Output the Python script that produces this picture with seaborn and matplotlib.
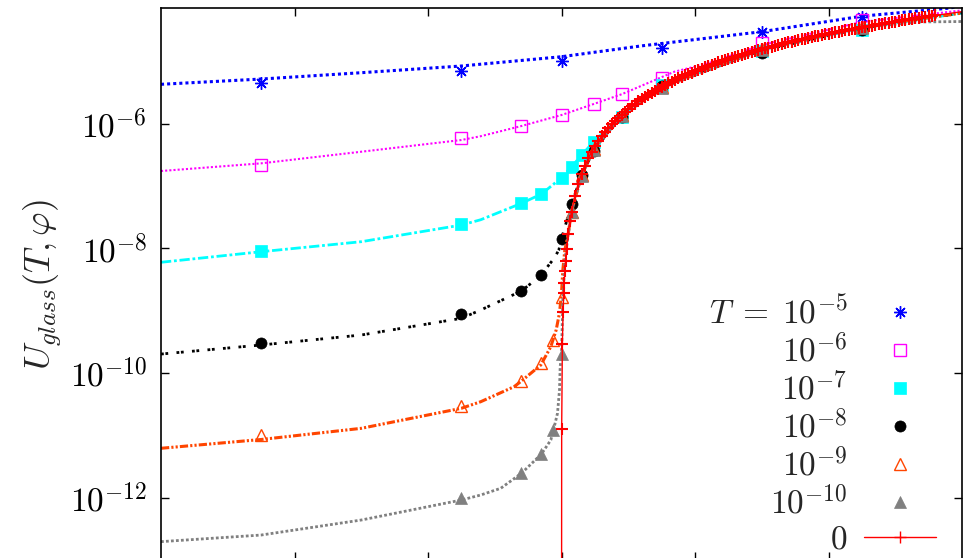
import matplotlib
matplotlib.use("Agg")
import matplotlib.pyplot as plt
import seaborn as sns
from matplotlib.lines import Line2D
from matplotlib.ticker import FixedLocator, NullLocator, FixedFormatter

sns.set_theme(style="white")
plt.rcParams["mathtext.fontset"] = "cm"
plt.rcParams["font.family"] = ["DejaVu Serif"]

PHI_J = 0.66

# ---- simulation points, U_glass(T, phi) ----
phi_5 = [0.615, 0.645, 0.66, 0.675, 0.69, 0.705]
u_5 = [4.51e-6, 6.86e-6, 1.00e-5, 1.64e-5, 2.89e-5, 5.15e-5]

phi_6 = [0.615, 0.645, 0.654, 0.66, 0.6648, 0.669, 0.675, 0.69, 0.705]
u_6 = [2.14e-7, 5.86e-7, 9.02e-7, 1.353e-6, 2.03e-6, 2.94e-6, 5.36e-6, 1.93e-5, 4.56e-5]

phi_7 = [0.615, 0.645, 0.654, 0.657, 0.66, 0.6615, 0.663, 0.6648, 0.669, 0.675, 0.69, 0.705]
u_7 = [9.15e-9, 2.48e-8, 5.26e-8, 7.41e-8, 1.353e-7, 2.03e-7, 3.09e-7, 5.11e-7, 1.27e-6,
       4.14e-6, 1.45e-5, 3.15e-5]

phi_8 = [0.615, 0.645, 0.654, 0.657, 0.66, 0.6615, 0.663, 0.6648, 0.669, 0.675, 0.69, 0.705]
u_8 = [3.00e-10, 8.85e-10, 2.07e-9, 3.73e-9, 1.426e-8, 5.13e-8, 1.511e-7, 3.66e-7, 1.285e-6,
       3.99e-6, 1.35e-5, 3.15e-5]

phi_9 = [0.615, 0.645, 0.654, 0.657, 0.6587, 0.66, 0.6615, 0.663, 0.6648, 0.669, 0.675, 0.69, 0.705]
u_9 = [1.019e-11, 2.97e-11, 7.47e-11, 1.468e-10, 3.39e-10, 1.64e-9, 3.82e-8, 1.496e-7, 3.90e-7,
       1.37e-6, 3.85e-6, 1.56e-5, 3.52e-5]

phi_10 = [0.645, 0.654, 0.657, 0.6587, 0.66, 0.6615, 0.663, 0.6648, 0.669, 0.675, 0.69, 0.705]
u_10 = [9.86e-13, 2.48e-12, 5.05e-12, 1.225e-11, 2.02e-10, 3.82e-8, 1.442e-7, 3.76e-7, 1.318e-6,
        3.71e-6, 1.51e-5, 3.39e-5]

phi_0 = [0.660027, 0.66013, 0.660235, 0.660334, 0.6604, 0.6605, 0.6606, 0.66075, 0.661, 0.66125,
         0.6615, 0.662, 0.6625, 0.663, 0.6635, 0.664, 0.6645, 0.665,
         0.6655, 0.666, 0.6665, 0.667, 0.6675, 0.668, 0.6685, 0.669, 0.6695, 0.670,
         0.6705, 0.671, 0.6715, 0.672, 0.6725, 0.673, 0.6735, 0.674, 0.6745, 0.675,
         0.6755, 0.676, 0.6765, 0.677, 0.6775, 0.678, 0.6785, 0.679, 0.6795, 0.680,
         0.6805, 0.681, 0.6815, 0.682, 0.6825, 0.683, 0.6835, 0.684, 0.6845, 0.685,
         0.6855, 0.686, 0.6865, 0.687, 0.6875, 0.688, 0.6885, 0.689, 0.6895, 0.690,
         0.6905, 0.691, 0.6915, 0.692, 0.6925, 0.693, 0.6935, 0.694, 0.6945, 0.695,
         0.6955, 0.696, 0.6965, 0.697, 0.6975, 0.698, 0.6985, 0.699, 0.6995, 0.700,
         0.7005, 0.701, 0.7015, 0.702, 0.7025, 0.703, 0.7035, 0.704, 0.7045, 0.705,
         0.7055, 0.706, 0.7065, 0.707, 0.7075, 0.708, 0.7085, 0.709, 0.7095, 0.710,
         0.7105, 0.711, 0.7115, 0.712, 0.7125, 0.713, 0.7135, 0.714, 0.7145, 0.715,
         0.7155, 0.716]
u_0 = [1.27e-11, 2.92e-10, 9.53e-10, 1.92e-9, 2.75e-9, 4.30e-9, 6.20e-9, 9.68e-9, 1.72e-8, 2.69e-8,
       3.87e-8, 6.88e-8, 1.08e-7, 1.55e-7, 2.11e-7, 2.75e-7, 3.49e-7, 4.30e-7,
       5.21e-7, 6.20e-7, 7.27e-7, 8.43e-7, 9.68e-7, 1.10e-6, 1.243e-6, 1.39e-6, 1.553e-6, 1.72e-6,
       1.897e-6, 2.08e-6, 2.276e-6, 2.48e-6, 2.689e-6, 2.91e-6, 3.137e-6, 3.37e-6, 3.618e-6, 3.87e-6,
       4.135e-6, 4.41e-6, 4.685e-6, 4.97e-6, 5.271e-6, 5.58e-6, 5.890e-6, 6.21e-6, 6.544e-6, 6.88e-6,
       7.232e-6, 7.59e-6, 7.955e-6, 8.33e-6, 8.713e-6, 9.10e-6, 9.504e-6, 9.91e-6, 1.033e-5, 1.08e-5,
       1.119e-5, 1.16e-5, 1.209e-5, 1.25e-5, 1.301e-5, 1.35e-5, 1.398e-5, 1.45e-5, 1.498e-5, 1.55e-5,
       1.601e-5, 1.65e-5, 1.708e-5, 1.76e-5, 1.818e-5, 1.87e-5, 1.931e-5, 1.99e-5, 2.048e-5, 2.11e-5,
       2.169e-5, 2.23e-5, 2.293e-5, 2.36e-5, 2.420e-5, 2.49e-5, 2.551e-5, 2.62e-5, 2.685e-5, 2.75e-5,
       2.823e-5, 2.89e-5, 2.964e-5, 3.04e-5, 3.109e-5, 3.18e-5, 3.257e-5, 3.33e-5, 3.408e-5, 3.49e-5,
       3.563e-5, 3.64e-5, 3.721e-5, 3.80e-5, 3.883e-5, 3.97e-5, 4.048e-5, 4.13e-5, 4.217e-5, 4.30e-5,
       4.389e-5, 4.48e-5, 4.565e-5, 4.65e-5, 4.743e-5, 4.83e-5, 4.926e-5, 5.02e-5, 5.112e-5, 5.21e-5,
       5.301e-5, 5.40e-5]

# ---- fitted curves ----
fit_phi_5 = [0.60, 0.615, 0.63, 0.645, 0.66, 0.6719, 0.69, 0.705, 0.7183, 0.72]
fit_u_5 = [4.25e-6, 5.16e-6, 6.52e-6, 8.35e-6, 1.176e-5, 1.75e-5, 2.96e-5, 5.25e-5, 7.1e-5, 7.9e-5]

fit_phi_6 = [0.60, 0.615, 0.63, 0.645, 0.6479, 0.654, 0.66, 0.6648, 0.669, 0.6719, 0.6769, 0.682,
             0.69, 0.705, 0.72]
fit_u_6 = [1.733e-7, 2.30e-7, 3.53e-7, 5.44e-7, 6.26e-7, 9.12e-7, 1.368e-6, 2.05e-6, 2.94e-6,
           3.99e-6, 6.76e-6, 9.22e-6, 1.81e-5, 4.24e-5, 6.5e-5]

fit_phi_7 = [0.60, 0.615, 0.63, 0.645, 0.6479, 0.654, 0.657, 0.66, 0.6615, 0.663, 0.6648, 0.669,
             0.675, 0.69, 0.705, 0.72]
fit_u_7 = [5.97e-9, 8.82e-9, 1.276e-8, 2.36e-8, 2.87e-8, 5.26e-8, 7.41e-8, 1.353e-7, 2.03e-7,
           3.09e-7, 5.11e-7, 1.343e-6, 3.99e-6, 1.51e-5, 3.39e-5, 5.90e-5]

fit_phi_8 = [0.60, 0.615, 0.63, 0.645, 0.6479, 0.654, 0.657, 0.6581, 0.6589, 0.6596, 0.66, 0.6615,
             0.663, 0.6648, 0.669, 0.675, 0.69, 0.705, 0.72]
fit_u_8 = [2.02e-10, 2.82e-10, 4.08e-10, 7.55e-10, 1.026e-9, 2.07e-9, 3.73e-9, 5.40e-9, 6.92e-9,
           9.40e-9, 1.426e-8, 5.02e-8, 1.496e-7, 3.66e-7, 1.318e-6, 3.92e-6, 1.48e-5, 3.39e-5, 5.90e-5]

fit_phi_9 = [0.60, 0.615, 0.63, 0.645, 0.6479, 0.6529, 0.654, 0.6569, 0.6584, 0.6592, 0.6597, 0.66,
             0.6602, 0.6605, 0.661, 0.6615, 0.663, 0.6648, 0.669, 0.675, 0.69, 0.705, 0.72]
fit_u_9 = [6.24e-12, 8.63e-12, 1.303e-11, 2.73e-11, 3.48e-11, 6.06e-11, 7.47e-11, 1.349e-10,
           2.65e-10, 4.91e-10, 9.19e-10, 1.92e-9, 4.49e-9, 9.40e-9, 1.694e-8, 3.82e-8, 1.496e-7,
           3.90e-7, 1.37e-6, 3.85e-6, 1.56e-5, 3.52e-5, 5.90e-5]

fit_phi_10 = [0.60, 0.615, 0.63, 0.645, 0.6479, 0.6509, 0.654, 0.657, 0.6584, 0.6588, 0.6594, 0.6597,
              0.6598, 0.66, 0.6602, 0.6605, 0.661, 0.6615, 0.663, 0.6648, 0.669, 0.675, 0.69, 0.705,
              0.7135, 0.72]
fit_u_10 = [1.99e-13, 2.54e-13, 4.42e-13, 9.25e-13, 1.113e-12, 1.426e-12, 2.48e-12, 5.05e-12,
            8.47e-12, 1.225e-11, 2.27e-11, 5.36e-11, 1.267e-10, 2.02e-10, 1.484e-9, 6.49e-9,
            1.633e-8, 3.82e-8, 1.442e-7, 3.76e-7, 1.318e-6, 3.71e-6, 1.51e-5, 3.46e-5, 4.24e-5, 4.31e-5]

# T = 0 curve vanishes at the jamming point and ends at the right border
fit_phi_0 = [PHI_J] + phi_0 + [0.72]
fit_u_0 = [1e-16] + u_0 + [6.2e-5]

y_ticks = [1e-12, 1e-10, 1e-8, 1e-6]
y_tick_labels = [r"$10^{-12}$", r"$10^{-10}$", r"$10^{-8}$", r"$10^{-6}$"]
x_ticks = [0.62, 0.64, 0.66, 0.68, 0.70]
legend_labels = [r"$T\;=\;10^{-5}$", r"$10^{-6}$", r"$10^{-7}$", r"$10^{-8}$",
                 r"$10^{-9}$", r"$10^{-10}$", r"$0$"]

BLUE, MAGENTA, CYAN, BLACK, ORANGE, GRAY, RED = (
    "#0000ff", "#ff00ff", "#00ffff", "#000000", "#ff4500", "#808080", "#ff0000")

W, H = 968, 558
fig = plt.figure(figsize=(W / 100, H / 100), dpi=100)
ax = fig.add_axes([161 / W, (H - 560.3) / H, 801 / W, (560.3 - 7.7) / H])
ax.set_yscale("log")


def curve(x, y, color, lw, ls):
    sns.lineplot(x=x, y=y, ax=ax, estimator=None, sort=False, color=color, lw=lw,
                 linestyle=ls, dash_capstyle="butt", legend=False)


def points(x, y, color, marker, ms, filled, mew=1.0):
    sns.lineplot(x=x, y=y, ax=ax, estimator=None, sort=False, linestyle="", marker=marker,
                 markersize=ms, markerfacecolor=color if filled else "none",
                 markeredgecolor=color, markeredgewidth=mew, color=color, legend=False)


STAR = (8, 2, 0)

curve(fit_phi_5, fit_u_5, BLUE, 2.2, (0, (1, 1)))
points(phi_5, u_5, BLUE, STAR, 9.0, False, 1.0)

curve(fit_phi_6, fit_u_6, MAGENTA, 1.5, (0, (1, 1)))
points(phi_6, u_6, MAGENTA, "s", 9.0, False, 1.0)

curve(fit_phi_7, fit_u_7, CYAN, 2.0, (0, (3.7, 1.0, 1.0, 1.0)))
points(phi_7, u_7, CYAN, "s", 8.4, True, 0.5)

curve(fit_phi_8, fit_u_8, BLACK, 2.0, (0, (1, 0.6, 1, 3)))
points(phi_8, u_8, BLACK, "o", 8.0, True, 0.5)

curve(fit_phi_9, fit_u_9, ORANGE, 2.2, (0, (2.7, 0.7, 0.7, 0.7, 0.7, 0.7)))
points(phi_9, u_9, ORANGE, "^", 8.4, False, 1.0)

curve(fit_phi_10, fit_u_10, GRAY, 2.0, (0, (1, 0.8)))
points(phi_10, u_10, GRAY, "^", 8.0, True, 0.5)

curve(fit_phi_0, fit_u_0, RED, 1.0, "-")
points(phi_0, u_0, RED, "+", 9.2, False, 1.5)

ax.set_xlim(0.60, 0.72)
ax.set_ylim(1e-13, 10 ** -4.144)
ax.xaxis.set_major_locator(FixedLocator(x_ticks))
ax.xaxis.set_minor_locator(NullLocator())
ax.yaxis.set_major_locator(FixedLocator(y_ticks))
ax.yaxis.set_major_formatter(FixedFormatter(y_tick_labels))
ax.yaxis.set_minor_locator(NullLocator())
ax.tick_params(axis="both", which="major", direction="in", length=5.8, width=1.0,
               top=True, right=True, bottom=True, left=True, labelsize=24, pad=10,
               colors="black")
ax.tick_params(axis="x", labelbottom=False)
for s in ax.spines.values():
    s.set_color("black")
    s.set_linewidth(1.2)

ax.set_xlabel("")
ax.set_ylabel(r"$U_{glass}(T,\varphi)$", fontsize=26, labelpad=4)

handles = [
    Line2D([], [], ls="", marker=STAR, ms=9.0, mfc="none", mec=BLUE, mew=1.0),
    Line2D([], [], ls="", marker="s", ms=9.0, mfc="none", mec=MAGENTA, mew=1.0),
    Line2D([], [], ls="", marker="s", ms=8.4, mfc=CYAN, mec=CYAN, mew=0.5),
    Line2D([], [], ls="", marker="o", ms=8.0, mfc=BLACK, mec=BLACK, mew=0.5),
    Line2D([], [], ls="", marker="^", ms=8.4, mfc="none", mec=ORANGE, mew=1.0),
    Line2D([], [], ls="", marker="^", ms=8.0, mfc=GRAY, mec=GRAY, mew=0.5),
    Line2D([], [], color=RED, lw=1.0, marker="+", ms=8.3, mew=1.0),
]
ax.legend(handles, legend_labels, loc="lower right", bbox_to_anchor=(0.9675, 0.008),
          frameon=False, markerfirst=False, fontsize=24, handlelength=2.16,
          handletextpad=0.5, labelspacing=0.1, borderaxespad=0, borderpad=0)

fig.savefig("out.png", dpi=100)
